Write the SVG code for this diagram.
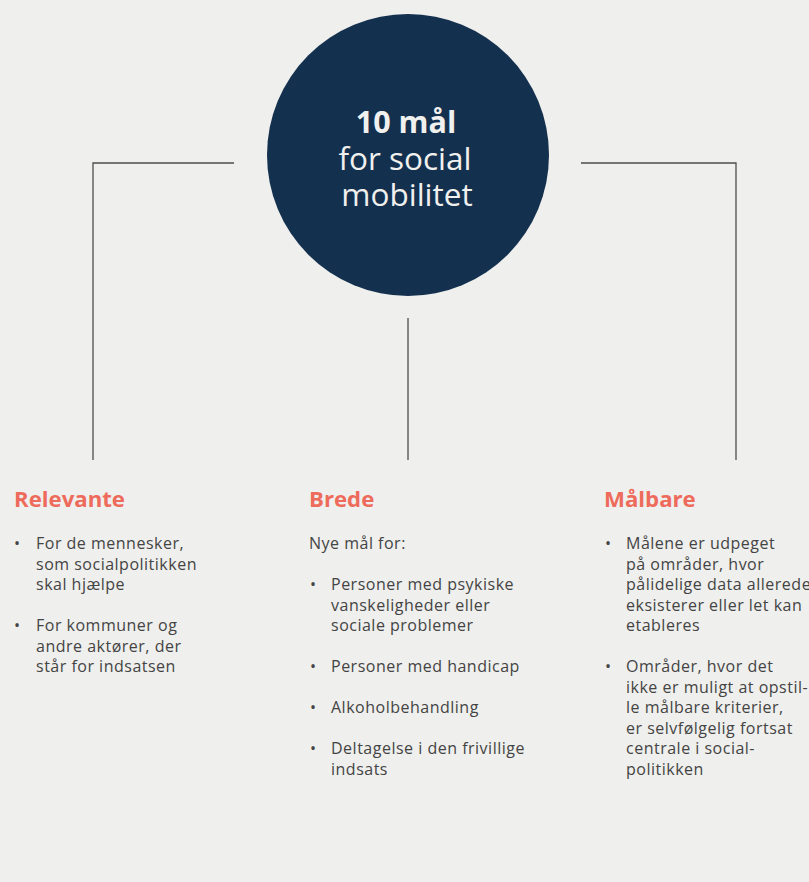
<svg xmlns="http://www.w3.org/2000/svg" width="809" height="882" viewBox="0 0 809 882">
<defs>
<style>
.bg{fill:#efefed}
.conn{fill:none;stroke:#4d4d4d;stroke-width:1.3}
.hd{font-family:"Open Sans","Noto Sans",sans-serif;font-weight:700;font-size:22.2px;fill:#ee6b5c}
.tx{font-family:"Open Sans","Noto Sans",sans-serif;font-size:16px;letter-spacing:0.5px;fill:#444}
.ct{font-family:"Open Sans","Noto Sans",sans-serif;fill:#f0f0ee;text-anchor:middle}
</style>
</defs>
<rect class="bg" x="0" y="0" width="809" height="882"/>
<g id="connectors">
<polyline class="conn" points="234,163 93,163 93,460"/>
<polyline class="conn" points="581,163 736,163 736,460"/>
<line class="conn" x1="408" y1="318" x2="408" y2="460"/>
</g>
<g id="center">
<circle cx="408" cy="155" r="141" fill="#14304f"/>
<text class="ct" x="406" y="133" font-size="30.5" font-weight="700">10 mål</text>
<text class="ct" x="405" y="170" font-size="31.5">for social</text>
<text class="ct" x="407" y="206" font-size="31.5">mobilitet</text>
</g>
<g id="relevante">
<text class="hd" x="14" y="507">Relevante</text>
<text class="tx" x="14" y="549">•</text>
<text class="tx" x="36" y="549">For de mennesker,</text>
<text class="tx" x="36" y="570">som socialpolitikken</text>
<text class="tx" x="36" y="590">skal hjælpe</text>
<text class="tx" x="14" y="631">•</text>
<text class="tx" x="36" y="631">For kommuner og</text>
<text class="tx" x="36" y="652">andre aktører, der</text>
<text class="tx" x="36" y="672">står for indsatsen</text>
</g>
<g id="brede">
<text class="hd" x="309" y="507">Brede</text>
<text class="tx" x="309" y="549">Nye mål for:</text>
<text class="tx" x="310" y="590">•</text>
<text class="tx" x="331" y="590">Personer med psykiske</text>
<text class="tx" x="331" y="611">vanskeligheder eller</text>
<text class="tx" x="331" y="631">sociale problemer</text>
<text class="tx" x="310" y="672">•</text>
<text class="tx" x="331" y="672">Personer med handicap</text>
<text class="tx" x="310" y="713">•</text>
<text class="tx" x="331" y="713">Alkoholbehandling</text>
<text class="tx" x="310" y="754">•</text>
<text class="tx" x="331" y="754">Deltagelse i den frivillige</text>
<text class="tx" x="331" y="775">indsats</text>
</g>
<g id="malbare">
<text class="hd" x="604" y="507">Målbare</text>
<text class="tx" x="605" y="549">•</text>
<text class="tx" x="626" y="549">Målene er udpeget</text>
<text class="tx" x="626" y="570">på områder, hvor</text>
<text class="tx" x="626" y="590">pålidelige data allerede</text>
<text class="tx" x="626" y="611">eksisterer eller let kan</text>
<text class="tx" x="626" y="631">etableres</text>
<text class="tx" x="605" y="672">•</text>
<text class="tx" x="626" y="672">Områder, hvor det</text>
<text class="tx" x="626" y="693">ikke er muligt at opstil-</text>
<text class="tx" x="626" y="713">le målbare kriterier,</text>
<text class="tx" x="626" y="734">er selvfølgelig fortsat</text>
<text class="tx" x="626" y="754">centrale i social-</text>
<text class="tx" x="626" y="775">politikken</text>
</g>
</svg>
